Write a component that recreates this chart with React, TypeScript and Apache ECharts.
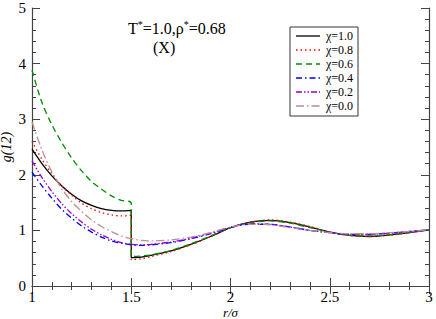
import React, { useEffect, useRef } from "react";
import * as echarts from "echarts";

const rGrid = [1.0, 1.05, 1.1, 1.15, 1.2, 1.25, 1.3, 1.35, 1.4, 1.45, 1.5, 1.5, 1.55, 1.6, 1.7, 1.8, 1.9, 2.0, 2.1, 2.2, 2.3, 2.4, 2.5, 2.6, 2.7, 2.8, 2.9, 3.0];

const g10 = [2.46, 2.2, 1.98, 1.8, 1.65, 1.53, 1.45, 1.39, 1.36, 1.35, 1.36, 0.51, 0.52, 0.55, 0.63, 0.75, 0.89, 1.05, 1.15, 1.18, 1.14, 1.06, 0.97, 0.91, 0.89, 0.92, 0.96, 1.01];
const g08 = [2.6, 2.28, 2.02, 1.8, 1.63, 1.49, 1.39, 1.32, 1.28, 1.26, 1.27, 0.47, 0.49, 0.53, 0.62, 0.74, 0.89, 1.05, 1.15, 1.19, 1.15, 1.07, 0.97, 0.91, 0.89, 0.91, 0.96, 1.01];
const g06 = [3.88, 3.3, 2.9, 2.58, 2.3, 2.07, 1.88, 1.74, 1.62, 1.54, 1.49, 0.53, 0.54, 0.56, 0.64, 0.76, 0.9, 1.05, 1.14, 1.17, 1.13, 1.05, 0.97, 0.91, 0.9, 0.92, 0.96, 1.01];
const g04 = [2.05, 1.8, 1.58, 1.38, 1.22, 1.08, 0.97, 0.88, 0.81, 0.77, 0.74, 0.74, 0.73, 0.74, 0.78, 0.85, 0.94, 1.05, 1.11, 1.11, 1.06, 1.0, 0.96, 0.93, 0.93, 0.95, 0.98, 1.01];
const g02 = [2.25, 1.95, 1.7, 1.48, 1.3, 1.15, 1.02, 0.92, 0.84, 0.78, 0.75, 0.75, 0.74, 0.75, 0.79, 0.86, 0.95, 1.06, 1.12, 1.11, 1.06, 1.0, 0.96, 0.93, 0.93, 0.95, 0.98, 1.01];
const g00 = [2.95, 2.45, 2.05, 1.75, 1.52, 1.34, 1.19, 1.07, 0.98, 0.9, 0.85, 0.85, 0.82, 0.81, 0.83, 0.88, 0.96, 1.06, 1.11, 1.1, 1.05, 1.0, 0.96, 0.94, 0.94, 0.96, 0.98, 1.01];

const seriesNames = ["χ=1.0", "χ=0.8", "χ=0.6", "χ=0.4", "χ=0.2", "χ=0.0"];
const seriesValues = [g10, g08, g06, g04, g02, g00];
const seriesColors = ["#000000", "#ff0000", "#008c00", "#0000ff", "#9400d3", "#bc8f8f"];
const seriesDash: any[] = ["solid", [1.5, 3], [6, 4], [6, 3, 1.5, 3], [6, 2, 1.5, 2, 1.5, 2], [8, 3, 1.5, 3]];

const xTicks = [1, 1.5, 2, 2.5, 3];
const yTicks = [0, 1, 2, 3, 4, 5];

const serif = "Liberation Serif";

export default function App() {
  const ref = useRef<HTMLDivElement>(null);
  useEffect(() => {
    if (!ref.current) return;
    const chart = echarts.init(ref.current, undefined, { renderer: "svg" });
    const axisColor = "#444";
    const commonX = {
      type: "value",
      min: xTicks[0],
      max: xTicks[xTicks.length - 1],
      interval: 0.5,
      axisLine: { show: true, lineStyle: { color: axisColor, width: 1.2 } },
      axisTick: { show: true, inside: true, length: 8, lineStyle: { color: axisColor } },
      minorTick: { show: true, splitNumber: 5, length: 4, lineStyle: { color: axisColor } },
      splitLine: { show: false },
    };
    const commonY = {
      type: "value",
      min: yTicks[0],
      max: yTicks[yTicks.length - 1],
      interval: 1,
      axisLine: { show: true, lineStyle: { color: axisColor, width: 1.2 } },
      axisTick: { show: true, inside: true, length: 8, lineStyle: { color: axisColor } },
      minorTick: { show: true, splitNumber: 5, length: 4, lineStyle: { color: axisColor } },
      splitLine: { show: false },
    };

    const lgLeft = 290, lgTop = 27, lgRow = 14;
    const legendEls: any[] = [
      {
        type: "rect",
        shape: { x: lgLeft, y: lgTop, width: 68, height: 89 },
        style: { fill: "#fff", stroke: "#333", lineWidth: 1 },
        z: 10,
      },
    ];
    seriesNames.forEach((name, i) => {
      const cy = lgTop + 9 + i * lgRow;
      legendEls.push({
        type: "line",
        shape: { x1: lgLeft + 6, y1: cy, x2: lgLeft + 30, y2: cy },
        style: {
          stroke: seriesColors[i],
          lineWidth: 1.3,
          lineDash: seriesDash[i] === "solid" ? null : seriesDash[i],
        },
        z: 11,
      });
      legendEls.push({
        type: "text",
        x: lgLeft + 36,
        y: cy,
        style: { text: name, fontFamily: serif, fontSize: 12, fill: "#000", verticalAlign: "middle" },
        z: 11,
      });
    });

    chart.setOption({
      animation: false,
      backgroundColor: "#ffffff",
      grid: { left: 32, right: 7, top: 8, bottom: 33, outerBoundsMode: "none", containLabel: false },
      xAxis: [
        {
          ...commonX,
          position: "bottom",
          name: "r/σ",
          nameLocation: "middle",
          nameGap: 20,
          nameMoveOverlap: false,
          nameTextStyle: { fontFamily: serif, fontSize: 13, fontStyle: "italic", color: "#000", lineHeight: 13 },
          axisLabel: {
            show: true,
            fontFamily: serif,
            fontSize: 15,
            lineHeight: 15,
            color: "#000",
            margin: 3,
            formatter: (v: number) => String(v),
          },
        },
        { ...commonX, position: "top", axisLabel: { show: false } },
      ],
      yAxis: [
        {
          ...commonY,
          position: "left",
          name: "g(12)",
          nameLocation: "middle",
          nameGap: 19,
          nameMoveOverlap: false,
          nameRotate: 90,
          nameTextStyle: { fontFamily: serif, fontSize: 14, fontStyle: "italic", color: "#000", lineHeight: 14 },
          axisLabel: { show: true, fontFamily: serif, fontSize: 15, color: "#000", margin: 6 },
        },
        { ...commonY, position: "right", axisLabel: { show: false } },
      ],
      graphic: [
        {
          type: "text",
          x: 128,
          y: 19,
          style: {
            text: "{a|T}{s|*}{a|=1.0,ρ}{s|*}{a|=0.68}",
            rich: {
              a: { fontFamily: serif, fontSize: 16, fill: "#000" },
              s: { fontFamily: serif, fontSize: 10, fill: "#000", padding: [0, 0, 9, 0] },
            },
          },
        },
        {
          type: "text",
          x: 153,
          y: 39,
          style: { text: "(X)", fontFamily: serif, fontSize: 16, fill: "#000" },
        },
        ...legendEls,
      ],
      series: seriesNames.map((name, i) => ({
        name,
        type: "line",
        symbol: "none",
        smooth: 0.3,
        data: rGrid.map((r, j) => [r, seriesValues[i][j]]),
        lineStyle: { color: seriesColors[i], width: 1.3, type: seriesDash[i] },
        itemStyle: { color: seriesColors[i] },
      })),
    });
    return () => chart.dispose();
  }, []);
  return <div ref={ref} style={{ width: 436, height: 319, position: "absolute", left: 0, top: 0 }} />;
}
